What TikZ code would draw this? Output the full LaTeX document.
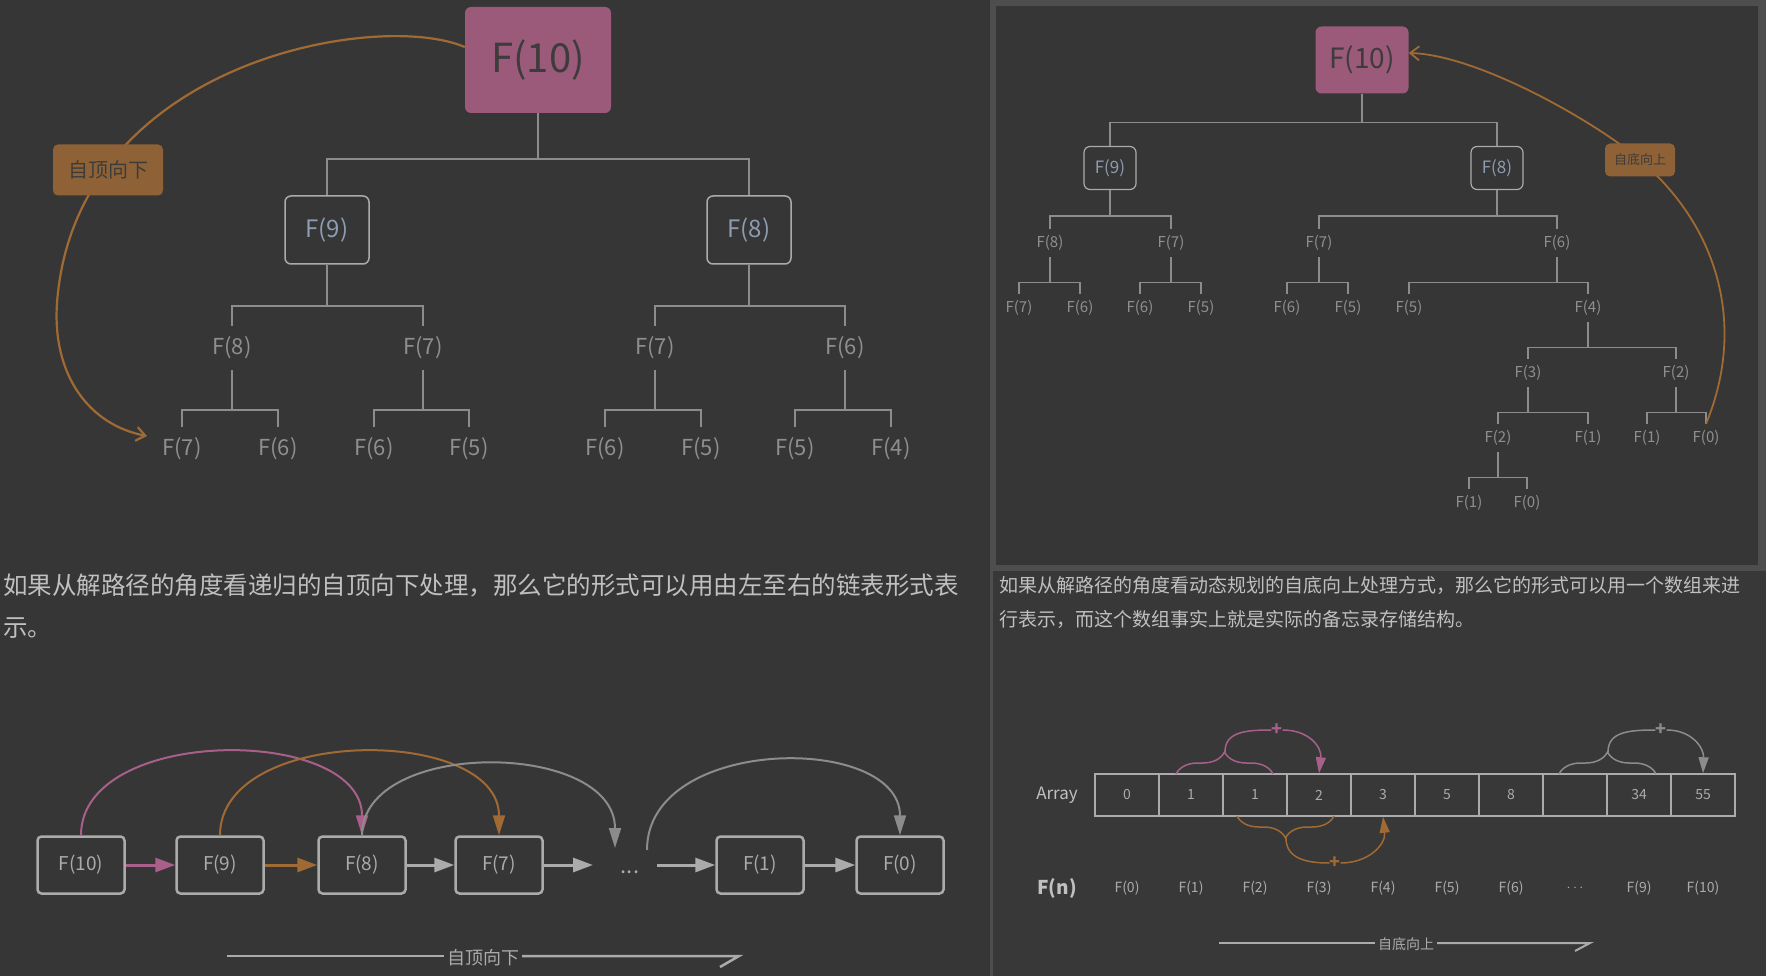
\documentclass[tikz,border=0pt]{standalone}
\usepackage{fontspec}
\setmainfont{Noto Sans CJK SC}
\usepackage{tikz}
\usetikzlibrary{arrows.meta}
\usetikzlibrary{decorations.pathreplacing}

\definecolor{bg}{HTML}{363636}
\definecolor{pane}{HTML}{383838}
\definecolor{rim}{HTML}{4E4E4E}
\definecolor{branch}{HTML}{8C8C8C}
\definecolor{leafc}{HTML}{8F8F8F}
\definecolor{rose}{HTML}{9B5A7A}
\definecolor{rosel}{HTML}{A8608A}
\definecolor{amber}{HTML}{8E6236}
\definecolor{amberl}{HTML}{A06A34}
\definecolor{slate}{HTML}{8D9CB0}
\definecolor{pale}{HTML}{ABABAB}
\definecolor{ink}{HTML}{C0C0C0}
\definecolor{dark}{HTML}{3C3C3C}

\newcommand\fsz[1]{\fontsize{#1}{#1}\selectfont}

\tikzset{
  root/.style={rectangle, rounded corners=6pt, fill=rose, text=dark, inner sep=0pt},
  kid/.style={rectangle, rounded corners=6pt, draw=pale, line width=1.5pt, text=slate, inner sep=0pt},
  lab/.style={inner sep=0pt, text=leafc},
  twig/.style={draw=branch, line width=2pt},
  tag/.style={rectangle, rounded corners=5pt, fill=amber, text=dark, inner sep=0pt},
  orbit/.style={draw=amberl, line width=2.2pt, -{Straight Barb[length=9pt,width=14pt]}},
  linkbox/.style={rectangle, rounded corners=4pt, draw=pale, line width=2.5pt, text=pale, minimum width=87pt, minimum height=57pt, inner sep=0pt, font=\fsz{19}},
  linkarrow/.style={line width=3pt, -{Triangle[length=20pt,width=14pt]}},
  jumparc/.style={line width=2pt, -{Triangle[length=20pt,width=12pt]}},
  slot/.style={rectangle, draw=pale, line width=1.5pt, text=pale, minimum width=64pt, minimum height=42pt, inner sep=0pt, font=\fsz{14}},
  idx/.style={text=pale, inner sep=0pt, font=\fsz{14}},
  curly/.style={line width=1.5pt, decorate, decoration={brace, amplitude=22pt}},
  sweep/.style={line width=1.5pt},
  sumsign/.style={inner sep=0pt, font=\fsz{18}\bfseries},
  trail/.style={draw=pale, line width=2.5pt},
  note/.style={anchor=west, inner sep=0pt, text=ink},
}

\begin{document}
\begin{tikzpicture}[x=1pt, y=-1pt]
    \def\lh{46}
    \def\rh{25}

    % Panels
    \fill[bg] (0,0) rectangle (1766,976);
    \useasboundingbox (0,0) rectangle (1766,976);
    \fill[rim] (990,0) rectangle (1766,571);
    \fill[bg] (996,6) rectangle (1758,565);
    \fill[rim] (990,571) rectangle (993,976);
    \fill[pane] (993,571) rectangle (1766,976);

    % Top-down tree
    \node[root, minimum width=146pt, minimum height=106pt, font=\fsz{40}] (ltop) at (538,60) {F(10)};
    \node[kid, minimum width=84pt, minimum height=68pt, font=\fsz{24}] (l9) at (327,230) {F(9)};
    \node[kid, minimum width=84pt, minimum height=68pt, font=\fsz{24}] (l8) at (749,230) {F(8)};
    \foreach \nm/\px/\lb in {ma/232/8, mb/423/7, mc/655/7, md/845/6}
        \node[lab, minimum height=44pt, font=\fsz{22}] (\nm) at (\px,348) {F(\lb)};
    \foreach \nm/\px/\lb in {ma1/182/7, ma2/278/6, mb1/374/6, mb2/469/5, mc1/605/6, mc2/701/5, md1/795/5, md2/891/4}
        \node[lab, minimum height=44pt, font=\fsz{22}] (\nm) at (\px,449) {F(\lb)};

    \foreach \p/\c in {ltop/l9, ltop/l8}
        \draw[twig] (\p.south) -- ++(0,\lh) -| (\c.north);
    \foreach \p/\c in {l9/ma, l9/mb, l8/mc, l8/md}
        \draw[twig] (\p.south) -- ++(0,41) -| (\c.north);
    \foreach \p in {ma, mb, mc, md}
        \foreach \k in {1,2}
            \draw[twig] (\p.south) -- ++(0,40) -| (\p\k.north);

    \coordinate (lend) at (147,436);
    \draw[orbit] (ltop.170) .. controls (380,10) and (75,60) .. (57,303)
        .. controls (52,376) and (90,425) .. (lend);
    \node[tag, minimum width=110pt, minimum height=51pt, font=\fsz{20}] (tdown) at (108,170) {自顶向下};

    % Bottom-up tree
    \node[root, minimum width=93pt, minimum height=67pt, font=\fsz{28}] (rtop) at (1362,60) {F(10)};
    \node[kid, minimum width=52pt, minimum height=43pt, font=\fsz{17}, line width=1.2pt] (r9) at (1110,168) {F(9)};
    \node[kid, minimum width=52pt, minimum height=43pt, font=\fsz{17}, line width=1.2pt] (r8) at (1497,168) {F(8)};
    \foreach \nm/\px/\py/\lb in {na/1050/243/8, nb/1171/243/7, nc/1319/243/7, nd/1557/243/6,
        na1/1019/308/7, na2/1080/308/6, nb1/1140/308/6, nb2/1201/308/5,
        nc1/1287/308/6, nc2/1348/308/5, nd1/1409/308/5, nd2/1588/308/4,
        ne1/1528/373/3, ne2/1676/373/2,
        nf1/1498/438/2, nf2/1588/438/1, ng1/1647/438/1, ng2/1706/438/0,
        nh1/1469/503/1, nh2/1527/503/0}
        \node[lab, minimum height=28pt, font=\fsz{15}] (\nm) at (\px,\py) {F(\lb)};

    \foreach \p/\c in {rtop/r9, rtop/r8}
        \draw[twig, line width=1.3pt] (\p.south) -- ++(0,29) -| (\c.north);
    \foreach \p/\c in {r9/na, r9/nb, r8/nc, r8/nd}
        \draw[twig, line width=1.3pt] (\p.south) -- ++(0,26) -| (\c.north);
    \foreach \p/\c in {na/na1, na/na2, nb/nb1, nb/nb2, nc/nc1, nc/nc2, nd/nd1, nd/nd2,
        nd2/ne1, nd2/ne2, ne1/nf1, ne1/nf2, ne2/ng1, ne2/ng2, nf1/nh1, nf1/nh2}
        \draw[twig, line width=1.3pt] (\p.south) -- ++(0,\rh) -| (\c.north);

    \draw[orbit, line width=1.8pt] (ng2.north) .. controls (1745,330) and (1722,230) .. (1640,160)
        .. controls (1600,125) and (1480,55) .. (rtop.east |- 0,53);
    \node[tag, minimum width=70pt, minimum height=33pt, font=\fsz{13}] (tup) at (1640,160) {自底向上};

    % Texts
    \node[note, font=\fsz{24.5}] (txl1) at (3,585) {如果从解路径的角度看递归的自顶向下处理，那么它的形式可以用由左至右的链表形式表};
    \node[note, font=\fsz{24.5}] (txl2) at (3,628) {示。};
    \node[note, font=\fsz{19}] (txr1) at (999,585) {如果从解路径的角度看动态规划的自底向上处理方式，那么它的形式可以用一个数组来进};
    \node[note, font=\fsz{19}] (txr2) at (999,619) {行表示，而这个数组事实上就是实际的备忘录存储结构。};

    % Linked list
    \foreach \nm/\px/\lb in {q0/81/10, q1/220/9, q2/362/8, q3/499/7, q4/760/1, q5/900/0}
        \node[linkbox] (\nm) at (\px,865) {F(\lb)};
    \node[text=pale, inner sep=0pt, font=\fsz{22}] (gap) at (630,872) {...};
    \coordinate (g1) at (593,865);
    \coordinate (g2) at (657,865);
    \coordinate (g3) at (615,848);
    \coordinate (g4) at (647,850);

    \draw[linkarrow, rosel] (q0) -- (q1);
    \draw[linkarrow, amberl] (q1) -- (q2);
    \draw[linkarrow, pale] (q2) -- (q3);
    \draw[linkarrow, pale] (q3) -- (g1);
    \draw[linkarrow, pale] (g2) -- (q4);
    \draw[linkarrow, pale] (q4) -- (q5);

    \draw[jumparc, rosel] (q0.north) .. controls +(0,-110) and +(0,-110) .. (q2.north);
    \draw[jumparc, amberl] (q1.north) .. controls +(0,-110) and +(0,-110) .. (q3.north);
    \draw[jumparc, branch] (q2.north) .. controls +(0,-97) and +(0,-108) .. (g3);
    \draw[jumparc, branch] (g4) .. controls +(0,-115) and +(0,-102) .. (q5.north);

    \coordinate (w1s) at (227,956);
    \coordinate (w1e) at (739,956);
    \coordinate (w1h) at (720,967);
    \node[text=pale, inner sep=3pt, font=\fsz{18}] (way1) at (483,958) {自顶向下};
    \draw[trail] (w1s) -- (way1.west |- w1s);
    \draw[trail] (way1.east |- w1e) -- (w1e) -- (w1h);

    % Array
    \node[text=ink, inner sep=0pt, font=\fsz{17}] (arr) at (1057,795) {Array};
    \foreach \v [count=\i from 0] in {0,1,1,2,3,5,8,{},34,55}
        \node[slot] (c\i) at (1127+64*\i,795) {\v};
    \node[text=ink, inner sep=0pt, font=\fsz{19}\bfseries] (fn) at (1057,888) {F(n)};
    \foreach \lb [count=\i from 0] in {F(0),F(1),F(2),F(3),F(4),F(5),F(6),$\cdots$,F(9),F(10)}
        \node[idx] (f\i) at (1127+64*\i,888) {\lb};

    % Sums
    \draw[curly, rosel] (1176,774) -- (1273,774);
    \coordinate (t1) at (1225,752);
    \node[sumsign, text=rosel] (s1) at (1277,730) {+};
    \draw[sweep, rosel] (t1) .. controls (1225,732) and (1245,730) .. (s1.west);
    \draw[sweep, rosel, -{Triangle[length=16pt,width=10pt]}] (s1.east) .. controls (1310,730) and (1322,748) .. (c3.north);

    \draw[curly, amberl] (1334,816) -- (1237,816);
    \coordinate (t2) at (1286,838);
    \node[sumsign, text=amberl] (s2) at (1335,863) {+};
    \draw[sweep, amberl] (t2) .. controls (1286,858) and (1305,863) .. (s2.west);
    \draw[sweep, amberl, -{Triangle[length=16pt,width=10pt]}] (s2.east) .. controls (1368,863) and (1386,845) .. (c4.south);

    \draw[curly, branch] (1559,774) -- (1656,774);
    \coordinate (t3) at (1608,752);
    \node[sumsign, text=branch] (s3) at (1661,730) {+};
    \draw[sweep, branch] (t3) .. controls (1608,732) and (1628,730) .. (s3.west);
    \draw[sweep, branch, -{Triangle[length=16pt,width=10pt]}] (s3.east) .. controls (1692,730) and (1704,748) .. (c9.north);

    \coordinate (w2s) at (1219,943);
    \coordinate (w2e) at (1590,943);
    \coordinate (w2h) at (1575,951);
    \node[text=pale, inner sep=3pt, font=\fsz{14}] (way2) at (1406,944) {自底向上};
    \draw[trail, line width=2pt] (w2s) -- (way2.west |- w2s);
    \draw[trail, line width=2pt] (way2.east |- w2e) -- (w2e) -- (w2h);
\end{tikzpicture}
\end{document}
